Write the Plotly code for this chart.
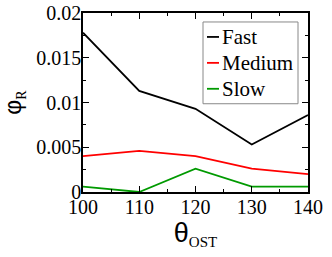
import plotly.graph_objects as go

theta = [100, 110, 120, 130, 140]
fast = [0.0178, 0.0113, 0.0093, 0.0053, 0.0086]
medium = [0.0040, 0.0046, 0.0040, 0.0026, 0.0020]
slow = [0.0006, 0.0, 0.0026, 0.0006, 0.0006]
yticks = [0, 0.005, 0.01, 0.015, 0.02]
ytick_labels = ["0", "0.005", "0.01", "0.015", "0.02"]

series = [("Fast", fast, "#000000"), ("Medium", medium, "#ff0000"), ("Slow", slow, "#009a00")]

serif = "'Liberation Serif', 'DejaVu Serif', serif"
sans = "'Liberation Sans', Arial, sans-serif"

fig = go.Figure()
for name, vals, col in series:
    fig.add_trace(go.Scatter(x=theta, y=vals, mode="lines", name=name,
                             line=dict(color=col, width=1.8), showlegend=False))

axis_common = dict(
    showgrid=False, zeroline=False, showline=True, linecolor="black", linewidth=1.5,
    mirror="ticks", ticks="inside", ticklen=6, tickwidth=1, tickcolor="black",
    tickfont=dict(family=serif, size=20, color="black"), automargin=False,
)

fig.update_layout(
    width=332, height=257,
    margin=dict(l=83, r=24, t=13, b=65),
    paper_bgcolor="white", plot_bgcolor="white",
    showlegend=False,
    xaxis=dict(range=[100, 140], tickvals=theta, ticktext=[str(t) for t in theta],
               ticklabelstandoff=-4,
               minor=dict(ticks="inside", ticklen=3, tickwidth=1, tickcolor="black", dtick=5, tick0=100),
               title=dict(text="θ<sub><span style=\"font-family:'Liberation Serif',serif;font-size:15px\">OST</span></sub>",
                          font=dict(family=sans, size=27, color="black"), standoff=4),
               **axis_common),
    yaxis=dict(range=[0, 0.02], tickvals=yticks, ticktext=ytick_labels,
               ticklabelstandoff=-4,
               minor=dict(ticks="inside", ticklen=3, tickwidth=1, tickcolor="black", dtick=0.0025, tick0=0),
               title=dict(text="φ<sub><span style=\"font-family:'Liberation Serif',serif;font-size:14px\">R</span></sub>",
                          font=dict(family=sans, size=23, color="black"), standoff=12),
               **axis_common),
)

# manual legend (box, short line samples, labels) in plot-domain coordinates
W, H = 225.0, 179.5
def px2dx(px):
    return (px - 83.0) / W
def py2dy(py):
    return (192.5 - py) / H

fig.add_shape(type="rect", xref="x domain", yref="y domain",
              x0=px2dx(203), x1=px2dx(298), y0=py2dy(104), y1=py2dy(22),
              line=dict(color="#888888", width=1), fillcolor="white", layer="above")
rows = [37, 63, 89]
for (name, vals, col), ry in zip(series, rows):
    fig.add_shape(type="line", xref="x domain", yref="y domain",
                  x0=px2dx(207), x1=px2dx(219), y0=py2dy(ry), y1=py2dy(ry),
                  line=dict(color=col, width=1.8), layer="above")
    fig.add_annotation(xref="x domain", yref="y domain", x=px2dx(220), y=py2dy(ry),
                       text=name, showarrow=False, xanchor="left", yanchor="middle",
                       font=dict(family=serif, size=21, color="black"))

fig.write_html("out.html", config={"displayModeBar": False},
               post_script="document.body.style.margin='0';")
